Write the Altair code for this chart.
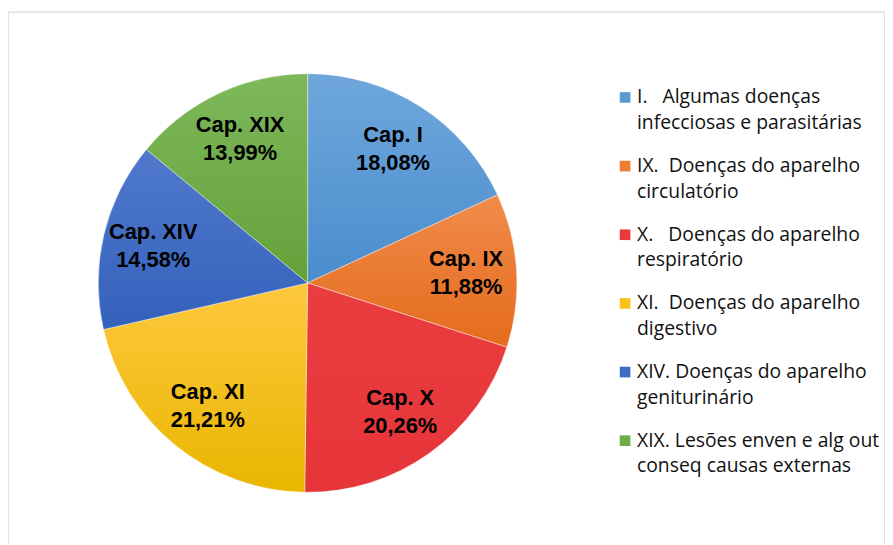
import altair as alt
import pandas as pd

cats = ["I", "IX", "X", "XI", "XIV", "XIX"]
pct = [18.08, 11.88, 20.26, 21.21, 14.58, 13.99]
pie_labels = ["Cap. I\n18,08%", "Cap. IX\n11,88%", "Cap. X\n20,26%",
              "Cap. XI\n21,21%", "Cap. XIV\n14,58%", "Cap. XIX\n13,99%"]
leg1 = ["I.\u00a0\u00a0\u00a0Algumas doenças",
        "IX.\u00a0\u00a0Doenças do aparelho",
        "X.\u00a0\u00a0\u00a0Doenças do aparelho",
        "XI.\u00a0\u00a0Doenças do aparelho",
        "XIV. Doenças do aparelho",
        "XIX. Lesões enven e alg out"]
leg2 = ["infecciosas e parasitárias", "circulatório", "respiratório",
        "digestivo", "geniturinário", "conseq causas externas"]
colors = ["#5B9BD5", "#ED7D31", "#E8393C", "#FCC01A", "#3E6BC3", "#6DAD43"]
grad_top = ["#6FA7DC", "#F18B4B", "#EA3D40", "#FEC83E", "#5079CC", "#7DB85A"]
grad_bot = ["#4A8DCD", "#E46B1C", "#E63538", "#E9B600", "#3461BB", "#64A13A"]

df = pd.DataFrame({"cat": cats, "pct": pct, "lab": pie_labels,
                   "leg1": leg1, "leg2": leg2, "idx": list(range(len(cats)))})

CX, CY = 302, 273

color = alt.Color("cat:N", scale=alt.Scale(domain=cats, range=colors), legend=None)
theta = alt.Theta("pct:Q", stack=True)
order = alt.Order("idx:Q")
yleg = alt.Y("cat:N", scale=alt.Scale(domain=cats, range=[86, 432], padding=0), axis=None)

base = alt.Chart(df)
cum = base.transform_window(
    cum="sum(pct)", sort=[alt.SortField("idx")], frame=[None, 0]
).transform_calculate(start="datum.cum - datum.pct")

arc_layers = []
for i, c in enumerate(cats):
    grad = alt.LinearGradient(
        gradient="linear", x1=0, y1=0, x2=0, y2=1,
        stops=[alt.GradientStop(color=grad_top[i], offset=0),
               alt.GradientStop(color=grad_bot[i], offset=1)])
    arc_layers.append(
        cum.transform_filter(alt.datum.idx == i).mark_arc(
            radius=211, color=grad, stroke="white", strokeWidth=0.4).encode(
            theta=alt.Theta("start:Q", scale=alt.Scale(domain=[0, 100])),
            theta2="cum:Q",
            x=alt.value(CX), y=alt.value(CY)))

labels = base.mark_text(radius=160, font="Liberation Sans", fontWeight="bold",
                        fontSize=22, lineBreak="\n", lineHeight=28, dy=-14,
                        align="center", baseline="middle", color="black").encode(
    theta=theta, text="lab:N", order=order,
    x=alt.value(CX), y=alt.value(CY))

squares = base.mark_square(size=115, opacity=1).encode(
    x=alt.value(622), y=yleg, color=color)

t1 = base.mark_text(align="left", baseline="middle", font="Open Sans",
                    fontSize=19.5, color="#111111").encode(
    x=alt.value(634), y=yleg, text="leg1:N")
t2 = base.mark_text(align="left", baseline="middle", font="Open Sans",
                    fontSize=19.5, color="#111111", dy=26).encode(
    x=alt.value(634), y=yleg, text="leg2:N")

chart = alt.layer(*arc_layers, labels, squares, t1, t2).properties(
    width=884, height=540,
    padding={"left": 0, "top": 2, "right": 0, "bottom": 0},
    autosize=alt.AutoSizeParams(type="none"),
).configure_view(stroke="#d9d9d9", strokeWidth=1.5)

chart.save("out.html", embed_options={"renderer": "svg", "actions": False})
